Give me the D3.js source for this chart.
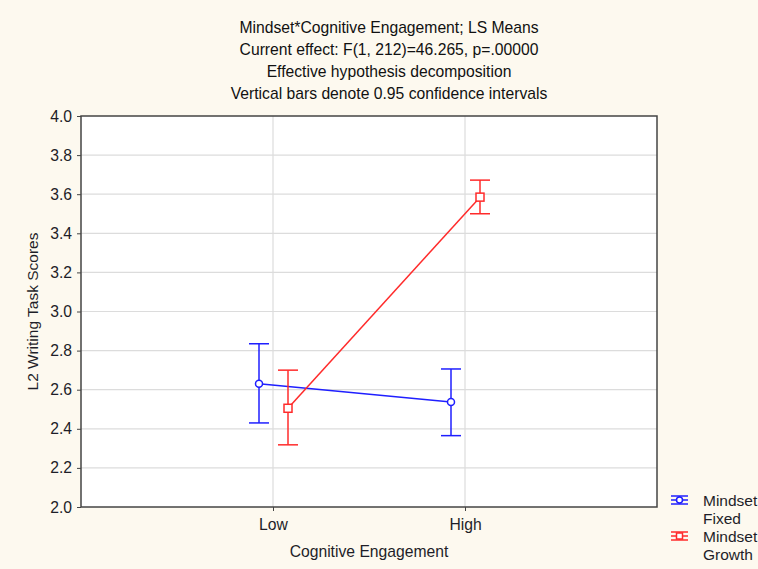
<!DOCTYPE html>
<html><head><meta charset="utf-8">
<script src="https://cdn.jsdelivr.net/npm/d3@7"></script>
<style>body{margin:0;background:#fdf9ef;} svg{display:block;}</style>
</head><body>
<svg id="c" width="758" height="569"></svg>
<script>
const titleLines = ["Mindset*Cognitive Engagement; LS Means","Current effect: F(1, 212)=46.265, p=.00000","Effective hypothesis decomposition","Vertical bars denote 0.95 confidence intervals"];
const categories = ["Low","High"];
const seriesNames = ["Mindset\nFixed","Mindset\nGrowth"];
const fixedMean = [2.63, 2.537];
const fixedLow = [2.43, 2.365];
const fixedHigh = [2.835, 2.706];
const growthMean = [2.505, 3.585];
const growthLow = [2.318, 3.50];
const growthHigh = [2.70, 3.672];
const yTicks = [2.0,2.2,2.4,2.6,2.8,3.0,3.2,3.4,3.6,3.8,4.0];
const xTitle = "Cognitive Engagement";
const yTitle = "L2 Writing Task Scores";

const series = [
  {name: seriesNames[0], color:"#1f1fff", mean: fixedMean, lo: fixedLow, hi: fixedHigh, off:-14, shape:"circle"},
  {name: seriesNames[1], color:"#ff2b2b", mean: growthMean, lo: growthLow, hi: growthHigh, off:15, shape:"square"}
];

const svg = d3.select("#c");
const font = "'Liberation Sans', Arial, sans-serif";
const txt = "#1e1e28";
svg.append("rect").attr("width",758).attr("height",569).attr("fill","#fdf9ef");

const L=81, R=657, T=116, B=507;
const x = d3.scalePoint().domain(categories).range([L,R]).padding(1);
const y = d3.scaleLinear().domain([2,4]).range([B,T]);

// title
svg.append("g").selectAll("text").data(titleLines).join("text")
  .attr("x",389).attr("y",(d,i)=>33+i*22).attr("text-anchor","middle")
  .attr("font-family",font).attr("font-size",15.7).attr("fill","#111").text(d=>d);

// plot background
svg.append("rect").attr("x",L).attr("y",T).attr("width",R-L).attr("height",B-T).attr("fill","#fff");

// grid
svg.append("g").selectAll("line").data(yTicks.slice(1,-1)).join("line")
  .attr("x1",L).attr("x2",R).attr("y1",d=>y(d)).attr("y2",d=>y(d))
  .attr("stroke","#dcdcdc").attr("stroke-width",1.2);
svg.append("g").selectAll("line").data(categories).join("line")
  .attr("x1",d=>x(d)).attr("x2",d=>x(d)).attr("y1",T).attr("y2",B)
  .attr("stroke","#dcdcdc").attr("stroke-width",1.2);

// axes
const yAxis = d3.axisLeft(y).tickValues(yTicks).tickFormat(d3.format(".1f")).tickSize(4).tickPadding(5);
const gy = svg.append("g").attr("transform",`translate(${L},0)`).call(yAxis);
gy.select(".domain").remove();
gy.selectAll("line").attr("stroke","#444");
gy.selectAll("text").attr("font-family",font).attr("font-size",15.7).attr("fill",txt);

const xAxis = d3.axisBottom(x).tickSize(4).tickPadding(8);
const gx = svg.append("g").attr("transform",`translate(0,${B})`).call(xAxis);
gx.select(".domain").remove();
gx.selectAll("line").attr("stroke","#444");
gx.selectAll("text").attr("font-family",font).attr("font-size",15.7).attr("fill",txt);

// frame
svg.append("rect").attr("x",L).attr("y",T).attr("width",R-L).attr("height",B-T)
  .attr("fill","none").attr("stroke","#444").attr("stroke-width",1.5);

// axis titles
svg.append("text").attr("x",369).attr("y",557).attr("text-anchor","middle")
  .attr("font-family",font).attr("font-size",15.7).attr("fill",txt).text(xTitle);
svg.append("text").attr("transform",`translate(38,${(T+B)/2}) rotate(-90)`).attr("text-anchor","middle")
  .attr("font-family",font).attr("font-size",15.5).attr("fill",txt).text(yTitle);

// series
const line = d3.line();
series.forEach(s=>{
  const g = svg.append("g");
  const pts = categories.map((c,i)=>[x(c)+s.off, y(s.mean[i])]);
  g.append("path").attr("d",line(pts)).attr("fill","none").attr("stroke",s.color).attr("stroke-width",1.5);
  categories.forEach((c,i)=>{
    const cx = x(c)+s.off;
    g.append("line").attr("x1",cx).attr("x2",cx).attr("y1",y(s.lo[i])).attr("y2",y(s.hi[i])).attr("stroke",s.color).attr("stroke-width",1.5);
    [s.lo[i], s.hi[i]].forEach(v=>{
      g.append("line").attr("x1",cx-10).attr("x2",cx+10).attr("y1",y(v)).attr("y2",y(v)).attr("stroke",s.color).attr("stroke-width",1.5);
    });
    if(s.shape==="circle") g.append("circle").attr("cx",cx).attr("cy",y(s.mean[i])).attr("r",3.5).attr("fill","#fff").attr("stroke",s.color).attr("stroke-width",1.5);
    else g.append("rect").attr("x",cx-4).attr("y",y(s.mean[i])-4).attr("width",8).attr("height",8).attr("fill","#fff").attr("stroke",s.color).attr("stroke-width",1.5);
  });
});

// legend
series.forEach((s,i)=>{
  const cy = 500 + i*36;
  const g = svg.append("g");
  [-4,0,4].forEach(dy=>g.append("line").attr("x1",671).attr("x2",688).attr("y1",cy+dy).attr("y2",cy+dy).attr("stroke",s.color).attr("stroke-width",1.5));
  g.append("line").attr("x1",679.5).attr("x2",679.5).attr("y1",cy-4).attr("y2",cy+4).attr("stroke",s.color).attr("stroke-width",1.5);
  if(s.shape==="circle") g.append("circle").attr("cx",679.5).attr("cy",cy).attr("r",3).attr("fill","#fff").attr("stroke",s.color).attr("stroke-width",1.5);
  else g.append("rect").attr("x",676.5).attr("y",cy-3).attr("width",6).attr("height",6).attr("fill","#fff").attr("stroke",s.color).attr("stroke-width",1.5);
  s.name.split("\n").forEach((t,j)=>{
    g.append("text").attr("x",703).attr("y",cy+6+j*18).attr("font-family",font).attr("font-size",15.5).attr("fill",txt).text(t);
  });
});
</script>
</body></html>
